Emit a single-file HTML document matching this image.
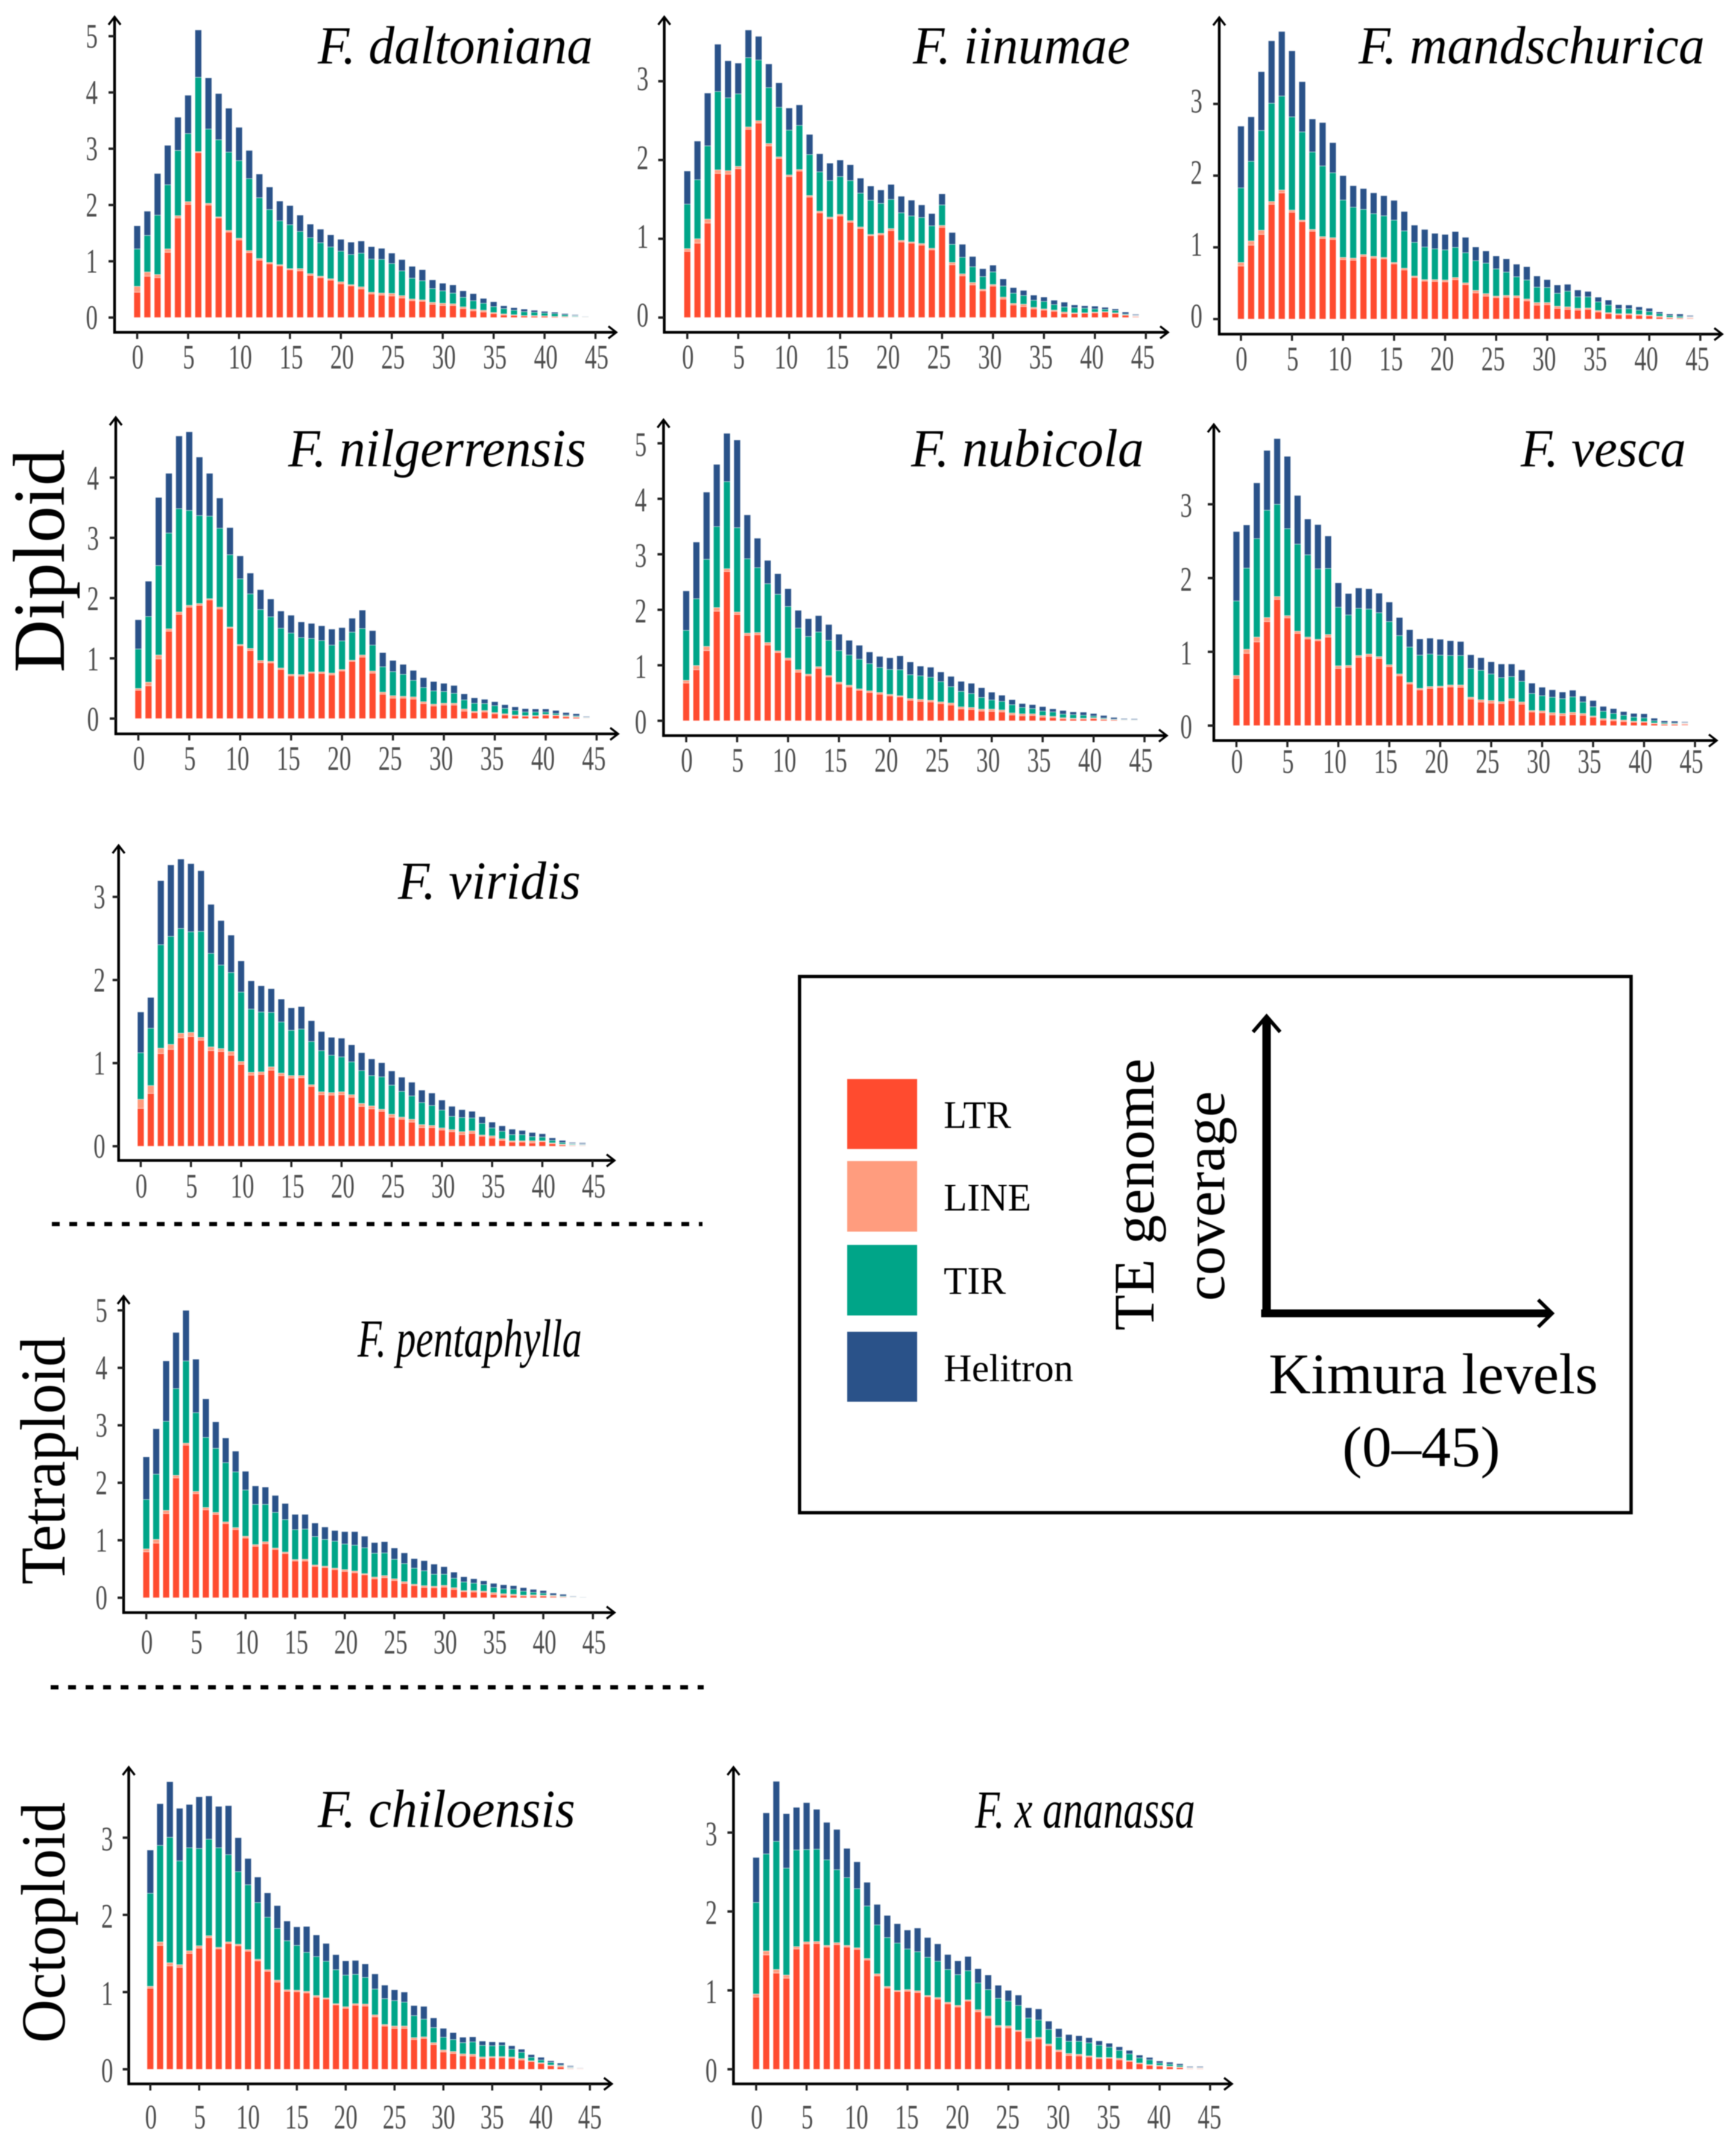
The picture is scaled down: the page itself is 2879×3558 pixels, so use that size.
<!DOCTYPE html>
<html lang="en">
<head>
<meta charset="utf-8">
<title>TE genome coverage by Kimura level</title>
<style>
html,body{margin:0;padding:0;background:#fff;}
svg{display:block;filter:blur(0.7px);}
text{font-family:"Liberation Serif",serif;}
.species{font-style:italic;font-size:89px;fill:#000;}
.group{fill:#000;}
.legend-label{font-size:65px;fill:#000;}
.big{font-size:95px;fill:#000;}
</style>
</head>
<body>
<svg id="figure" xmlns="http://www.w3.org/2000/svg" width="2879" height="3558" viewBox="0 0 2879 3558">
  <rect x="0" y="0" width="2879" height="3558" fill="#fff"/>

  <g id="panel-daltoniana"></g>
  <g id="panel-iinumae"></g>
  <g id="panel-mandschurica"></g>
  <g id="panel-nilgerrensis"></g>
  <g id="panel-nubicola"></g>
  <g id="panel-vesca"></g>
  <g id="panel-viridis"></g>
  <g id="panel-pentaphylla"></g>
  <g id="panel-chiloensis"></g>
  <g id="panel-ananassa"></g>

  <text class="species" x="527" y="105" textLength="456" lengthAdjust="spacingAndGlyphs">F. daltoniana</text>
  <text class="species" x="1514" y="105" textLength="360" lengthAdjust="spacingAndGlyphs">F. iinumae</text>
  <text class="species" x="2253" y="105" textLength="574" lengthAdjust="spacingAndGlyphs">F. mandschurica</text>
  <text class="species" x="478" y="773" textLength="494" lengthAdjust="spacingAndGlyphs">F. nilgerrensis</text>
  <text class="species" x="1511" y="773" textLength="386" lengthAdjust="spacingAndGlyphs">F. nubicola</text>
  <text class="species" x="2522" y="773" textLength="274" lengthAdjust="spacingAndGlyphs">F. vesca</text>
  <text class="species" x="660" y="1490" textLength="303" lengthAdjust="spacingAndGlyphs">F. viridis</text>
  <text class="species" x="593" y="2249" textLength="372" lengthAdjust="spacingAndGlyphs">F. pentaphylla</text>
  <text class="species" x="527" y="3029" textLength="427" lengthAdjust="spacingAndGlyphs">F. chiloensis</text>
  <text class="species" x="1617" y="3030" textLength="365" lengthAdjust="spacingAndGlyphs">F. x ananassa</text>

  <text class="group" transform="translate(106,1115) rotate(-90)" font-size="122" textLength="370" lengthAdjust="spacingAndGlyphs">Diploid</text>
  <text class="group" transform="translate(107,2627) rotate(-90)" font-size="106" textLength="411" lengthAdjust="spacingAndGlyphs">Tetraploid</text>
  <text class="group" transform="translate(107,3387) rotate(-90)" font-size="104" textLength="399" lengthAdjust="spacingAndGlyphs">Octoploid</text>

  <line x1="86" y1="2029.5" x2="1165" y2="2029.5" stroke="#000" stroke-width="7" stroke-dasharray="13 16"/>
  <line x1="84" y1="2797.5" x2="1167" y2="2797.5" stroke="#000" stroke-width="7" stroke-dasharray="13 16"/>

  <g>
    <rect x="1326" y="1619" width="1379" height="889" fill="#fff" stroke="#000" stroke-width="5.5"/>
    <rect x="1405" y="1789" width="116" height="116" fill="#FF4B2F"/>
    <rect x="1405" y="1925" width="116" height="117" fill="#FF9C7E"/>
    <rect x="1405" y="2064" width="116" height="117" fill="#00A588"/>
    <rect x="1405" y="2208" width="116" height="116" fill="#2A5289"/>
    <text class="legend-label" x="1565" y="1870" textLength="112" lengthAdjust="spacingAndGlyphs">LTR</text>
    <text class="legend-label" x="1565" y="2007" textLength="145" lengthAdjust="spacingAndGlyphs">LINE</text>
    <text class="legend-label" x="1565" y="2145" textLength="103" lengthAdjust="spacingAndGlyphs">TIR</text>
    <text class="legend-label" x="1565" y="2290" textLength="215" lengthAdjust="spacingAndGlyphs">Helitron</text>
    <text class="big" transform="translate(1913,2206) rotate(-90)" textLength="451" lengthAdjust="spacingAndGlyphs">TE genome</text>
    <text class="big" transform="translate(2030,2157) rotate(-90)" textLength="348" lengthAdjust="spacingAndGlyphs">coverage</text>
    <line x1="2100.5" y1="2184" x2="2100.5" y2="1688" stroke="#000" stroke-width="14"/>
    <polyline points="2078,1711 2100.5,1685 2123,1711" fill="none" stroke="#000" stroke-width="6"/>
    <line x1="2091.5" y1="2177.5" x2="2572" y2="2177.5" stroke="#000" stroke-width="13"/>
    <polyline points="2551,2155 2574,2177.5 2551,2200" fill="none" stroke="#000" stroke-width="6"/>
    <text class="big" x="2104" y="2310" textLength="546" lengthAdjust="spacingAndGlyphs">Kimura levels</text>
    <text class="big" x="2226" y="2431" textLength="262" lengthAdjust="spacingAndGlyphs">(0–45)</text>
  </g>
</svg>

<script>
// Tick labels
const xTickLabels = [0, 5, 10, 15, 20, 25, 30, 35, 40, 45];
const yTicksTo3 = [0, 1, 2, 3];
const yTicksTo4 = [0, 1, 2, 3, 4];
const yTicksTo5 = [0, 1, 2, 3, 4, 5];

// LTR top, LINE top, TIR top, Helitron top (cumulative % coverage).
const daltonianaLtr = [.45,.735,.71,1.16,1.77,2.01,2.93,2.0,1.77,1.52,1.38,1.155,1.02,.955,.92,.85,.83,.75,.71,.665,.60,.565,.51,.42,.40,.385,.35,.30,.29,.235,.215,.215,.16,.12,.10,.07,.045,.04,.03,.025,.025,.015,.01,.005,.003];
const daltonianaLine = [.555,.81,.765,1.22,1.81,2.06,2.95,2.03,1.79,1.55,1.41,1.19,1.05,.98,.94,.87,.87,.78,.735,.69,.635,.585,.545,.45,.435,.43,.39,.33,.315,.27,.255,.245,.19,.15,.13,.09,.065,.05,.035,.035,.03,.02,.02,.01,.006];
const daltonianaTir = [1.22,1.46,1.82,2.36,2.97,3.27,4.27,3.35,3.16,2.94,2.79,2.47,2.13,1.92,1.72,1.65,1.53,1.42,1.33,1.255,1.18,1.12,1.145,1.04,1.035,.96,.83,.70,.655,.515,.475,.435,.36,.30,.255,.195,.16,.13,.105,.095,.08,.07,.05,.03,.012];
const daltonianaHelitron = [1.63,1.89,2.56,3.06,3.56,3.95,5.11,4.26,3.98,3.72,3.38,2.97,2.55,2.32,2.07,1.99,1.82,1.66,1.57,1.47,1.39,1.34,1.36,1.26,1.23,1.145,1.03,.91,.85,.67,.61,.58,.475,.425,.34,.28,.21,.175,.15,.13,.11,.095,.07,.055,.02];

const iinumaeLtr = [.84,.945,1.2,1.83,1.82,1.89,2.39,2.47,2.18,2.02,1.79,1.86,1.53,1.33,1.255,1.29,1.21,1.13,1.04,1.05,1.105,.96,.945,.92,.86,1.145,.67,.53,.415,.34,.40,.235,.16,.14,.11,.095,.08,.05,.05,.055,.06,.07,.05,.03,.015];
const iinumaeLine = [.875,1.0,1.25,1.875,1.865,1.92,2.42,2.5,2.21,2.04,1.81,1.88,1.55,1.35,1.275,1.31,1.23,1.15,1.055,1.07,1.13,.98,.96,.94,.88,1.17,.7,.555,.445,.36,.42,.26,.18,.17,.13,.11,.095,.07,.06,.06,.07,.075,.06,.035,.02];
const iinumaeTir = [1.44,1.75,2.18,2.87,2.79,2.84,3.3,3.27,2.92,2.67,2.38,2.44,2.07,1.85,1.74,1.79,1.74,1.58,1.49,1.45,1.5,1.33,1.29,1.27,1.165,1.43,.93,.765,.645,.52,.58,.40,.31,.28,.22,.205,.165,.135,.125,.12,.11,.105,.09,.045,.025];
const iinumaeHelitron = [1.86,2.24,2.85,3.47,3.26,3.23,3.65,3.57,3.22,2.98,2.66,2.7,2.325,2.08,1.96,2.0,1.94,1.77,1.67,1.62,1.69,1.54,1.49,1.43,1.32,1.57,1.08,.93,.775,.62,.665,.49,.38,.345,.285,.26,.22,.195,.16,.15,.145,.13,.11,.07,.045];

const mandschuricaLtr = [.74,1.03,1.18,1.6,1.76,1.49,1.36,1.225,1.125,1.11,.83,.82,.875,.85,.84,.77,.685,.58,.53,.525,.52,.55,.48,.365,.32,.30,.305,.30,.255,.195,.20,.15,.135,.125,.135,.10,.075,.06,.06,.05,.045,.025,.015,.012,.015];
const mandschuricaLine = [.79,1.09,1.24,1.64,1.80,1.52,1.38,1.25,1.15,1.135,.86,.85,.9,.875,.86,.79,.71,.6,.55,.55,.545,.58,.505,.4,.355,.32,.33,.325,.28,.23,.23,.18,.17,.15,.155,.12,.09,.075,.075,.065,.055,.04,.025,.02,.025];
const mandschuricaTir = [1.83,2.2,2.63,3.01,3.11,2.82,2.61,2.33,2.135,2.04,1.66,1.56,1.53,1.47,1.44,1.38,1.23,1.07,1.005,.98,.965,1.0,.925,.815,.78,.7,.655,.59,.545,.445,.44,.36,.39,.31,.31,.24,.195,.145,.145,.125,.105,.075,.05,.04,.03];
const mandschuricaHelitron = [2.69,2.82,3.45,3.88,4.01,3.74,3.31,2.79,2.74,2.46,2.0,1.86,1.82,1.76,1.72,1.655,1.5,1.31,1.25,1.195,1.18,1.22,1.14,1.005,.95,.88,.84,.765,.73,.6,.55,.475,.485,.405,.385,.305,.265,.20,.195,.17,.15,.10,.07,.07,.055];

const nilgerrensisLtr = [.47,.545,.99,1.45,1.73,1.85,1.88,1.97,1.82,1.5,1.21,1.13,.93,.925,.815,.71,.705,.755,.75,.725,.79,.95,1.02,.755,.405,.34,.34,.325,.25,.21,.225,.225,.125,.10,.11,.08,.06,.045,.04,.04,.055,.05,.03,.02,.005];
const nilgerrensisLine = [.5,.605,1.055,1.49,1.77,1.88,1.91,1.99,1.85,1.52,1.23,1.165,.965,.95,.84,.735,.73,.775,.775,.755,.815,.97,1.055,.79,.44,.38,.37,.36,.28,.24,.255,.255,.16,.12,.135,.10,.08,.06,.05,.05,.07,.06,.045,.03,.012];
const nilgerrensisTir = [1.155,1.695,2.54,3.08,3.485,3.455,3.37,3.36,3.16,2.72,2.32,2.07,1.81,1.69,1.5,1.42,1.345,1.33,1.295,1.22,1.29,1.435,1.495,1.22,.86,.78,.735,.635,.515,.46,.45,.42,.31,.255,.25,.215,.17,.135,.11,.11,.11,.085,.06,.045,.02];
const nilgerrensisHelitron = [1.64,2.28,3.67,4.07,4.69,4.76,4.34,4.07,3.66,3.17,2.7,2.415,2.14,1.985,1.785,1.715,1.605,1.58,1.54,1.485,1.51,1.665,1.8,1.46,1.095,.965,.9,.8,.68,.615,.585,.55,.41,.345,.32,.28,.23,.195,.165,.16,.16,.135,.10,.08,.04];

const nubicolaLtr = [.68,.92,1.265,1.975,2.69,1.915,1.54,1.55,1.365,1.23,1.095,.875,.81,.945,.79,.665,.61,.55,.51,.48,.45,.43,.37,.35,.34,.31,.285,.215,.205,.175,.17,.16,.105,.09,.095,.065,.055,.035,.03,.03,.04,.02,.015,.005,.004];
const nubicolaLine = [.73,.995,1.34,2.04,2.74,1.96,1.58,1.59,1.41,1.26,1.13,.92,.84,.975,.815,.695,.64,.575,.54,.51,.475,.45,.40,.385,.37,.34,.32,.25,.24,.21,.21,.195,.14,.125,.125,.095,.08,.055,.045,.045,.055,.035,.02,.01,.008];
const nubicolaTir = [1.63,2.2,2.91,3.5,4.31,3.48,2.92,2.76,2.47,2.28,2.06,1.67,1.52,1.6,1.45,1.265,1.185,1.11,1.03,.96,.925,.92,.83,.81,.785,.705,.615,.53,.49,.42,.375,.35,.29,.24,.22,.175,.16,.12,.11,.10,.085,.05,.03,.02,.015];
const nubicolaHelitron = [2.34,3.22,4.12,4.62,5.18,5.06,3.71,3.29,2.89,2.65,2.38,1.99,1.84,1.895,1.735,1.56,1.45,1.36,1.24,1.16,1.135,1.17,1.06,.985,.965,.88,.8,.71,.675,.595,.515,.46,.38,.31,.29,.255,.215,.185,.16,.155,.13,.095,.06,.045,.04];

const vescaLtr = [.64,.98,1.135,1.41,1.71,1.46,1.25,1.175,1.15,1.2,.775,.79,.925,.94,.91,.8,.675,.565,.485,.505,.515,.525,.52,.36,.32,.305,.30,.34,.29,.185,.175,.145,.135,.15,.14,.115,.075,.065,.055,.045,.045,.025,.015,.015,.025];
const vescaLine = [.68,1.035,1.2,1.465,1.75,1.49,1.28,1.2,1.17,1.235,.81,.815,.95,.97,.935,.825,.70,.585,.505,.53,.535,.55,.55,.385,.35,.34,.325,.365,.32,.205,.20,.175,.165,.18,.165,.13,.095,.085,.075,.06,.055,.035,.025,.025,.03];
const vescaTir = [1.69,2.135,2.535,2.92,3.0,2.67,2.46,2.315,2.125,2.13,1.605,1.5,1.59,1.58,1.53,1.41,1.22,1.065,.955,.97,.955,.95,.95,.775,.75,.70,.65,.665,.6,.435,.405,.385,.365,.39,.32,.255,.195,.165,.14,.115,.105,.065,.04,.035,.035];
const vescaHelitron = [2.63,2.72,3.29,3.73,3.89,3.65,3.12,2.8,2.725,2.57,1.935,1.79,1.865,1.855,1.795,1.675,1.465,1.3,1.175,1.185,1.17,1.15,1.14,.96,.92,.865,.835,.835,.755,.575,.52,.485,.455,.48,.40,.34,.26,.23,.19,.165,.16,.10,.065,.06,.055];

const viridisLtr = [.455,.635,1.115,1.165,1.305,1.32,1.275,1.15,1.14,1.095,.985,.855,.865,.915,.85,.82,.825,.72,.62,.615,.62,.59,.48,.45,.42,.35,.325,.29,.225,.225,.195,.175,.14,.155,.12,.10,.07,.05,.05,.04,.055,.03,.015,.01,.006];
const viridisLine = [.565,.73,1.18,1.225,1.36,1.37,1.31,1.195,1.175,1.14,1.02,.89,.895,.955,.88,.85,.85,.74,.655,.645,.655,.62,.515,.485,.445,.385,.35,.325,.26,.25,.22,.20,.175,.185,.135,.125,.09,.065,.065,.065,.065,.04,.025,.015,.012];
const viridisTir = [1.125,1.42,2.425,2.525,2.62,2.58,2.585,2.32,2.18,2.09,1.855,1.65,1.615,1.61,1.495,1.395,1.41,1.26,1.15,1.095,1.075,1.015,.91,.85,.835,.735,.66,.605,.525,.49,.435,.36,.345,.34,.275,.22,.18,.14,.14,.115,.11,.07,.045,.03,.02];
const viridisHelitron = [1.615,1.79,3.195,3.385,3.455,3.4,3.315,2.91,2.715,2.54,2.23,1.99,1.93,1.895,1.77,1.665,1.68,1.51,1.38,1.31,1.3,1.22,1.125,1.05,1.005,.905,.83,.77,.675,.64,.555,.48,.44,.42,.355,.29,.245,.205,.19,.165,.15,.10,.07,.05,.045];

const pentaphyllaLtr = [.8,.95,1.465,2.085,2.655,1.81,1.53,1.45,1.29,1.185,1.04,.895,.94,.84,.77,.64,.64,.545,.525,.49,.46,.435,.40,.33,.35,.30,.25,.21,.18,.175,.185,.145,.105,.10,.095,.06,.045,.04,.03,.03,.03,.015,.01,.004,.002];
const pentaphyllaLine = [.85,1.015,1.52,2.13,2.69,1.85,1.57,1.485,1.32,1.22,1.07,.925,.975,.865,.795,.665,.67,.57,.55,.515,.49,.465,.42,.36,.385,.33,.28,.235,.21,.20,.215,.175,.125,.125,.115,.09,.07,.06,.045,.05,.045,.035,.018,.008,.003];
const pentaphyllaTir = [1.71,2.15,3.07,3.64,4.12,3.22,2.79,2.6,2.35,2.19,1.875,1.625,1.625,1.485,1.36,1.185,1.195,1.065,1.015,.985,.935,.915,.87,.775,.78,.67,.595,.515,.47,.41,.41,.34,.275,.255,.23,.18,.155,.15,.115,.095,.08,.045,.03,.015,.006];
const pentaphyllaHelitron = [2.45,2.94,4.12,4.615,5.0,4.15,3.46,3.06,2.78,2.55,2.2,1.945,1.925,1.78,1.64,1.45,1.45,1.3,1.23,1.17,1.15,1.15,1.07,.96,.975,.865,.78,.68,.645,.585,.54,.445,.365,.33,.295,.25,.225,.21,.175,.145,.125,.08,.06,.03,.012];

const chiloensisLtr = [1.05,1.605,1.34,1.32,1.5,1.57,1.705,1.56,1.63,1.6,1.53,1.405,1.27,1.13,1.01,1.005,.99,.935,.91,.835,.79,.83,.82,.68,.56,.53,.53,.385,.40,.32,.225,.205,.175,.17,.14,.15,.15,.145,.12,.10,.075,.045,.03,.01,.007];
const chiloensisLine = [1.075,1.65,1.38,1.355,1.535,1.6,1.73,1.58,1.65,1.62,1.55,1.425,1.29,1.155,1.03,1.025,1.01,.955,.925,.85,.81,.85,.845,.705,.58,.56,.56,.41,.42,.345,.25,.23,.20,.195,.16,.165,.165,.16,.14,.11,.085,.055,.045,.015,.013];
const chiloensisTir = [2.28,2.9,3.005,2.7,2.87,2.86,2.98,2.87,2.78,2.56,2.39,2.16,1.97,1.825,1.665,1.605,1.515,1.46,1.4,1.29,1.22,1.23,1.19,1.04,.915,.89,.87,.695,.65,.54,.415,.385,.345,.355,.31,.305,.31,.26,.22,.155,.12,.09,.055,.025,.015];
const chiloensisHelitron = [2.84,3.44,3.725,3.38,3.43,3.53,3.54,3.405,3.415,3.0,2.73,2.49,2.285,2.12,1.92,1.845,1.85,1.74,1.63,1.485,1.405,1.41,1.365,1.235,1.09,1.03,1.0,.825,.815,.665,.53,.475,.415,.42,.365,.355,.35,.305,.26,.19,.155,.11,.08,.05,.02];

const ananassaLtr = [.915,1.45,1.22,1.155,1.525,1.59,1.595,1.55,1.58,1.55,1.52,1.385,1.185,1.03,.985,.99,.975,.92,.89,.83,.79,.865,.73,.65,.535,.525,.48,.36,.385,.30,.225,.175,.17,.155,.135,.14,.12,.10,.07,.05,.04,.03,.02,.01,.01];
const ananassaLine = [.955,1.5,1.265,1.195,1.555,1.615,1.62,1.57,1.605,1.57,1.54,1.405,1.21,1.05,1.0,1.01,.995,.935,.91,.85,.81,.88,.755,.675,.555,.55,.495,.39,.405,.32,.245,.20,.19,.17,.15,.15,.14,.11,.08,.06,.05,.04,.03,.015,.015];
const ananassaTir = [2.115,2.73,2.89,2.55,2.78,2.785,2.79,2.655,2.53,2.43,2.29,2.07,1.83,1.67,1.6,1.525,1.49,1.42,1.37,1.265,1.2,1.25,1.095,1.01,.9,.865,.81,.65,.625,.505,.405,.355,.355,.335,.305,.28,.24,.195,.145,.12,.08,.065,.05,.02,.02];
const ananassaHelitron = [2.685,3.25,3.65,3.24,3.32,3.38,3.295,3.13,3.04,2.8,2.63,2.37,2.09,1.95,1.845,1.765,1.79,1.67,1.59,1.455,1.375,1.43,1.275,1.195,1.065,1.0,.94,.78,.765,.61,.515,.44,.425,.40,.36,.33,.285,.24,.18,.15,.105,.09,.07,.04,.04];

const seriesColors = ['#FF4B2F', '#FF9C7E', '#00A588', '#2A5289'];
const seriesNames = ['bar-ltr', 'bar-line', 'bar-tir', 'bar-helitron'];

const SVG_NS = 'http://www.w3.org/2000/svg';

function make(parent, tag, attrs, name) {
  const el = document.createElementNS(SVG_NS, tag);
  for (const k in attrs) el.setAttribute(k, attrs[k]);
  
  
  parent.appendChild(el);
  return el;
}

function tickText(parent, x, y, str, anchor, name) {
  const el = make(parent, 'text', {
    transform: 'translate(' + x + ',' + y + ') scale(.69,1)',
    'text-anchor': anchor,
    'font-size': 57,
    fill: '#4d4d4d'
  }, name);
  el.textContent = str;
}

function drawPanel(p) {
  const g = document.getElementById(p.id);
  const xScale = function (k) { return p.x0 + k * p.dx; };
  const yScale = function (v) { return p.y0 - v * p.yu; };
  const barWidth = 10.8;
  const topSeries = p.series[p.series.length - 1];

  p.series[0].forEach(function (_, i) {
    let prev = 0;
    const fade = topSeries[i] < 0.06 ? 0.45 : 1;
    p.series.forEach(function (arr, s) {
      const top = arr[i];
      const h = Math.max(0, yScale(prev) - yScale(top));
      make(g, 'rect', {
        x: xScale(i) - barWidth / 2,
        y: yScale(top),
        width: barWidth,
        height: h,
        fill: seriesColors[s],
        'fill-opacity': fade,
        stroke: '#fff',
        'stroke-opacity': .55,
        'stroke-width': 1
      }, seriesNames[s]);
      prev = top;
    });
  });

  make(g, 'line', { x1: p.axisX, y1: p.axisY + 2, x2: p.axisX, y2: p.topTip + 2, stroke: '#000', 'stroke-width': 4.5 }, 'y-axis-line');
  make(g, 'line', { x1: p.axisX - 2, y1: p.axisY, x2: p.rightTip - 2, y2: p.axisY, stroke: '#000', 'stroke-width': 4.5 }, 'x-axis-line');
  make(g, 'polyline', {
    points: (p.axisX - 10) + ',' + (p.topTip + 13) + ' ' + p.axisX + ',' + p.topTip + ' ' + (p.axisX + 10) + ',' + (p.topTip + 13),
    fill: 'none', stroke: '#000', 'stroke-width': 3.5
  }, 'y-axis-arrow');
  make(g, 'polyline', {
    points: (p.rightTip - 13) + ',' + (p.axisY - 10) + ' ' + p.rightTip + ',' + p.axisY + ' ' + (p.rightTip - 13) + ',' + (p.axisY + 10),
    fill: 'none', stroke: '#000', 'stroke-width': 3.5
  }, 'x-axis-arrow');

  xTickLabels.forEach(function (t) {
    make(g, 'line', { x1: xScale(t), y1: p.axisY, x2: xScale(t), y2: p.axisY + 11, stroke: '#222', 'stroke-width': 3.5 }, 'x-tick');
    const shift = t >= 10 ? p.labelShift : 1;
    tickText(g, xScale(t) + shift, p.axisY + p.xLabelDy, String(t), 'middle', 'x-tick-label');
  });

  p.yTicks.forEach(function (t) {
    make(g, 'line', { x1: p.axisX - 10, y1: yScale(t), x2: p.axisX, y2: yScale(t), stroke: '#222', 'stroke-width': 4 }, 'y-tick');
    tickText(g, p.axisX - p.yLabelDx, yScale(t) + p.yLabelDy, String(t), 'end', 'y-tick-label');
  });
}

const panels = [
  { id: 'panel-daltoniana', series: [daltonianaLtr, daltonianaLine, daltonianaTir, daltonianaHelitron], yTicks: yTicksTo5,
    x0: 227.5, dx: 16.89, y0: 526.5, yu: 93.3, axisX: 190, axisY: 551, topTip: 28, rightTip: 1022, xLabelDy: 60, yLabelDx: 28, yLabelDy: 19, labelShift: 2 },
  { id: 'panel-iinumae', series: [iinumaeLtr, iinumaeLine, iinumaeTir, iinumaeHelitron], yTicks: yTicksTo3,
    x0: 1139.8, dx: 16.9, y0: 526.5, yu: 130.6, axisX: 1101.6, axisY: 551, topTip: 28, rightTip: 1937, xLabelDy: 60, yLabelDx: 26, yLabelDy: 15, labelShift: -5 },
  { id: 'panel-mandschurica', series: [mandschuricaLtr, mandschuricaLine, mandschuricaTir, mandschuricaHelitron], yTicks: yTicksTo3,
    x0: 2058, dx: 16.93, y0: 529, yu: 118.9, axisX: 2022, axisY: 554, topTip: 29, rightTip: 2856, xLabelDy: 60, yLabelDx: 28, yLabelDy: 14, labelShift: -5 },
  { id: 'panel-nilgerrensis', series: [nilgerrensisLtr, nilgerrensisLine, nilgerrensisTir, nilgerrensisHelitron], yTicks: yTicksTo4,
    x0: 229.4, dx: 16.89, y0: 1191.4, yu: 99.9, axisX: 192, axisY: 1216.7, topTip: 692, rightTip: 1025, xLabelDy: 60, yLabelDx: 28, yLabelDy: 20, labelShift: -4.5 },
  { id: 'panel-nubicola', series: [nubicolaLtr, nubicolaLine, nubicolaTir, nubicolaHelitron], yTicks: yTicksTo5,
    x0: 1138, dx: 16.89, y0: 1195, yu: 92, axisX: 1100.4, axisY: 1219.6, topTip: 696, rightTip: 1935, xLabelDy: 60, yLabelDx: 28, yLabelDy: 21, labelShift: -6 },
  { id: 'panel-vesca', series: [vescaLtr, vescaLine, vescaTir, vescaHelitron], yTicks: yTicksTo3,
    x0: 2050.5, dx: 16.9, y0: 1203, yu: 122.3, axisX: 2013, axisY: 1227.8, topTip: 703.7, rightTip: 2847, xLabelDy: 53.5, yLabelDx: 36, yLabelDy: 21, labelShift: -6 },
  { id: 'panel-viridis', series: [viridisLtr, viridisLine, viridisTir, viridisHelitron], yTicks: yTicksTo3,
    x0: 233.4, dx: 16.65, y0: 1900.4, yu: 137.8, axisX: 196.7, axisY: 1924, topTip: 1401.7, rightTip: 1019, xLabelDy: 61.5, yLabelDx: 22, yLabelDy: 19, labelShift: 2 },
  { id: 'panel-pentaphylla', series: [pentaphyllaLtr, pentaphyllaLine, pentaphyllaTir, pentaphyllaHelitron], yTicks: yTicksTo5,
    x0: 242.6, dx: 16.46, y0: 2649, yu: 95.3, axisX: 205, axisY: 2673.6, topTip: 2149, rightTip: 1019, xLabelDy: 68, yLabelDx: 27, yLabelDy: 19, labelShift: 2 },
  { id: 'panel-chiloensis', series: [chiloensisLtr, chiloensisLine, chiloensisTir, chiloensisHelitron], yTicks: yTicksTo3,
    x0: 249.3, dx: 16.2, y0: 3430.8, yu: 128, axisX: 213.5, axisY: 3455, topTip: 2930, rightTip: 1014.6, xLabelDy: 74, yLabelDx: 26, yLabelDy: 21, labelShift: 0 },
  { id: 'panel-ananassa', series: [ananassaLtr, ananassaLine, ananassaTir, ananassaHelitron], yTicks: yTicksTo3,
    x0: 1254, dx: 16.73, y0: 3430.8, yu: 130.8, axisX: 1216.4, axisY: 3455, topTip: 2930, rightTip: 2043, xLabelDy: 74, yLabelDx: 27, yLabelDy: 21, labelShift: -1 }
];

panels.forEach(drawPanel);
</script>
</body>
</html>
